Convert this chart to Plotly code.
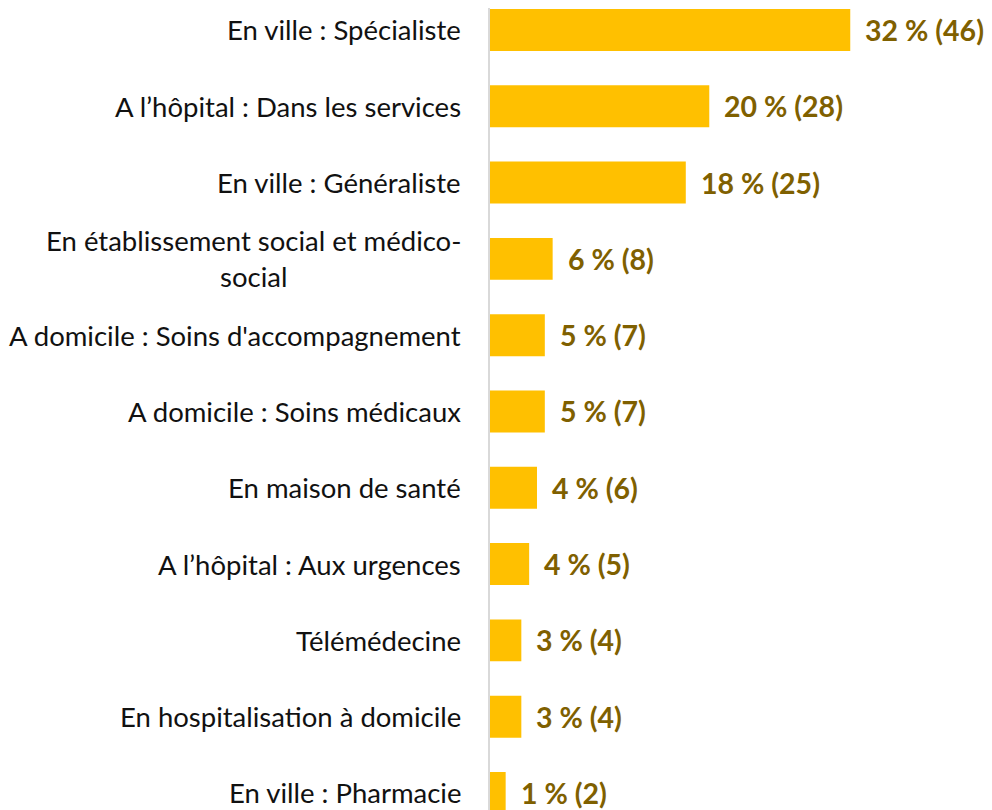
import plotly.graph_objects as go

categories = [
    "En ville : Spécialiste",
    "A l’hôpital : Dans les services",
    "En ville : Généraliste",
    "En établissement social et médico-<br>social",
    "A domicile : Soins d'accompagnement",
    "A domicile : Soins médicaux",
    "En maison de santé",
    "A l’hôpital : Aux urgences",
    "Télémédecine",
    "En hospitalisation à domicile",
    "En ville : Pharmacie",
]
counts = [46, 28, 25, 8, 7, 7, 6, 5, 4, 4, 2]
percents = [32, 20, 18, 6, 5, 5, 4, 4, 3, 3, 1]

FONT = "Lato"
BAR = "#FFC000"
LABEL = "#7F6000"

ypos = list(range(len(categories)))

fig = go.Figure(go.Bar(
    x=counts,
    y=ypos,
    orientation="h",
    marker=dict(color=BAR, line=dict(width=0)),
    width=0.55,
    hoverinfo="skip",
))

annotations = []
for i, (cat, c, p) in enumerate(zip(categories, counts, percents)):
    annotations.append(dict(
        x=0, xref="paper", y=i, yref="y", text=cat, showarrow=False,
        xanchor="right", yanchor="middle", align="center", xshift=-27,
        font=dict(family=FONT, size=27.5, color="#111111"),
    ))
    annotations.append(dict(
        x=c, xref="x", y=i, yref="y", text=f"<b>{p} % ({c})</b>", showarrow=False,
        xanchor="left", yanchor="middle", xshift=13,
        font=dict(family=FONT, size=28.5, color=LABEL),
    ))

fig.update_layout(
    width=984, height=802,
    margin=dict(l=482, r=0, t=0, b=0),
    paper_bgcolor="white", plot_bgcolor="white",
    showlegend=False,
    annotations=annotations,
    xaxis=dict(range=[0, 64.1], visible=False, showgrid=False, zeroline=False),
    yaxis=dict(range=[10.223, -0.288], showticklabels=False, showgrid=False,
               zeroline=False, showline=True, linecolor="#D9D9D9", linewidth=2,
               ticks=""),
)

fig.write_html("out.html")
